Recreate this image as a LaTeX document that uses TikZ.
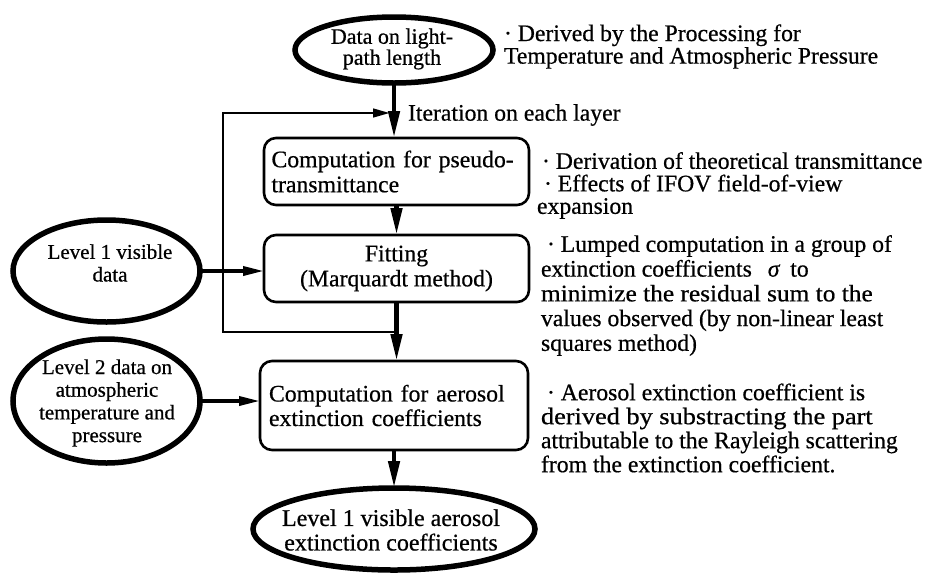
\documentclass[tikz,border=0pt]{standalone}
\usepackage{fontspec}
\usepackage{graphicx}
\setmainfont[FakeBold=0.6]{Liberation Serif}
\usetikzlibrary{arrows.meta,shapes.geometric}
\begin{document}
\begin{tikzpicture}[x=1pt,y=-1pt,
  every node/.style={inner sep=0pt, outer sep=0pt},
  body/.style={font=\fontsize{23.7}{24}\selectfont},
  ell/.style={ellipse, draw, line width=5.5pt},
  ellText/.style={align=center, font=\fontsize{21}{22.7}\selectfont},
  proc/.style={draw, line width=2.6pt, rounded corners=12pt},
  note/.style={anchor=west, align=left},
  mainarrow/.style={line width=4.5pt, -{Triangle[length=27pt,width=11pt]}},
  sidearrow/.style={line width=3.5pt, -{Triangle[length=21pt,width=9pt]}},
  looparrow/.style={line width=2.8pt, -{Triangle[length=17pt,width=8.5pt]}},
]
\useasboundingbox (0,0) rectangle (928,574);

% ---- input / output ellipses ----
\node[ell, minimum width=198pt, minimum height=66pt] (top) at (394,50) {};
\node[align=center, font=\fontsize{22}{18.5}\selectfont] (topT) at (392,49) {Data on light-\\path length};

\node[ell, minimum width=187pt, minimum height=102pt] (l1) at (106.5,271) {};
\node[ellText] (l1T) at (110,263) {Level 1 visible\\data};

\node[ell, minimum width=187pt, minimum height=124pt] (l2) at (106.5,401) {};
\node[ellText] (l2T) at (107,403) {Level 2 data on\\atmospheric\\temperature and\\pressure};

\node[ell, minimum width=282pt, minimum height=82pt] (fin) at (394,529) {};
\node[align=center, font=\fontsize{24}{24.5}\selectfont] (finT) at (391,530) {Level 1 visible aerosol\\extinction coefficients};

% ---- processing boxes ----
\node[proc, minimum width=265pt, minimum height=67pt, text width=250pt, align=left, font=\fontsize{23.7}{25}\selectfont]
  (b1) at (396.5,171.5) {Computation for pseudo-\\transmittance};
\node[proc, minimum width=265pt, minimum height=67pt, align=center, font=\fontsize{23.7}{25}\selectfont]
  (b2) at (396.5,268.5) {Fitting\\(Marquardt method)};
\node[proc, minimum width=268pt, minimum height=89pt, text width=250pt, align=left, font=\fontsize{23.7}{24.5}\selectfont]
  (b3) at (394,405.5) {\makebox[\linewidth][s]{Computation for aerosol}\\extinction coefficients};

% ---- notes ----
\node[body, anchor=west] (iter) at (408,115) {Iteration on each layer};

\node[note, font=\fontsize{23.7}{21}\selectfont] (n0) at (504,46.5)
  {· Derived by the Processing for\\Temperature and Atmospheric Pressure};
\node[note, font=\fontsize{23.7}{22.5}\selectfont] (n1) at (537,185.5)
  {\hspace*{5pt}· Derivation of theoretical transmittance\\\hspace*{7pt}· Effects of IFOV field-of-view\\expansion};
\node[note, font=\fontsize{23.7}{24.75}\selectfont] (n2) at (541,295.5)
  {\hspace*{6pt}· Lumped computation in a group of\\extinction coefficients\hspace{16pt}\textit{σ}\hspace{10pt}to\\\scalebox{1.07}[1]{minimize the residual sum to the}\\values observed (by non-linear least\\squares method)};
\node[note, font=\fontsize{23.7}{24}\selectfont] (n3) at (541,428)
  {\hspace*{6pt}· Aerosol extinction coefficient is\\\scalebox{1.11}[1]{derived by substracting the part}\\attributable to the Rayleigh scattering\\from the extinction coefficient.};

% ---- main flow ----
\draw[mainarrow] (top.south) -- (top.south |- b1.north);
\draw[mainarrow] (b1.south) -- (b1.south |- b2.north);
\draw[mainarrow] (b2.south) -- (b2.south |- b3.north);
\draw[mainarrow] (b3.south) -- (b3.south |- fin.north);

% ---- side inputs ----
\draw[sidearrow] (l1.east) -- (l1.east -| b2.west);
\draw[sidearrow] (l2.east) -- (l2.east -| b3.west);

% ---- iteration loop ----
\coordinate (jb) at (396.5,332);
\coordinate (lc1) at (223,332);
\coordinate (lc2) at (223,113);
\coordinate (jt) at (390,113);
\draw[looparrow] (jb) -- (lc1) -- (lc2) -- (jt);
\end{tikzpicture}
\end{document}
